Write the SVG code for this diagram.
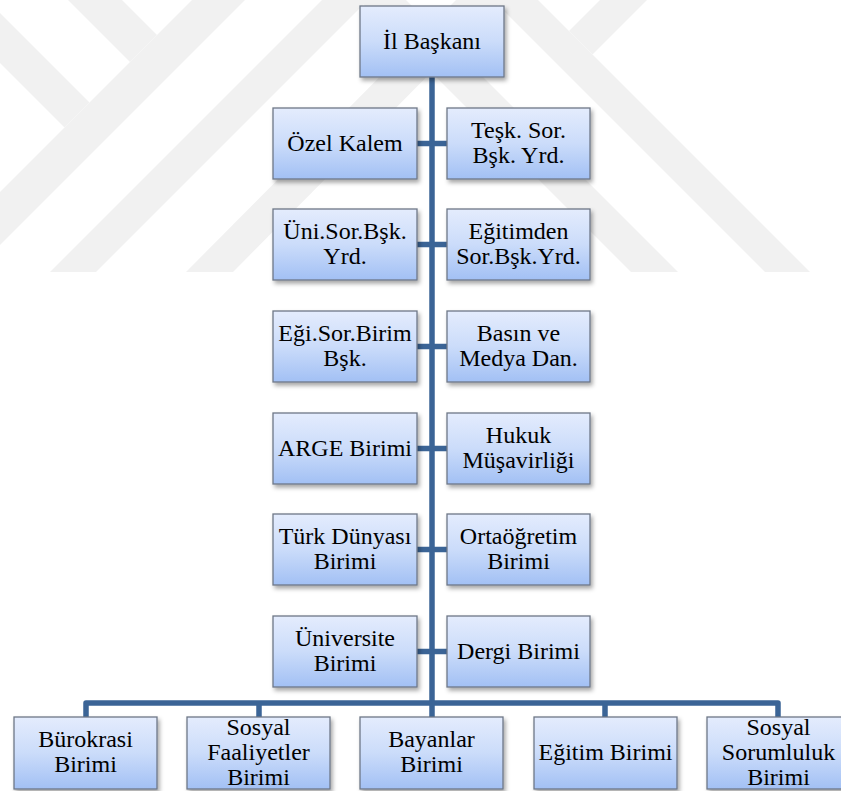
<svg xmlns="http://www.w3.org/2000/svg" width="841" height="791" viewBox="0 0 841 791">
<defs>
<linearGradient id="g" x1="0" y1="0" x2="0" y2="1">
<stop offset="0" stop-color="#e4ecfd"/>
<stop offset="0.5" stop-color="#cbdcfa"/>
<stop offset="1" stop-color="#a2c0f4"/>
</linearGradient>
<filter id="sh" x="-10%" y="-10%" width="125%" height="130%">
<feDropShadow dx="2" dy="3" stdDeviation="2" flood-color="#000" flood-opacity="0.35"/>
</filter>
<style>
.b{fill:url(#g);stroke:#6e7787;stroke-width:1.3;filter:url(#sh)}
text{font-family:'Liberation Serif','DejaVu Serif',serif;font-size:24px;fill:#000;text-anchor:middle}
.c{fill:none;stroke:#3b6496;stroke-width:5.5;stroke-linejoin:round}
.w{fill:#f1f1f1}
</style>
</defs>
<rect width="841" height="791" fill="#fff"/>
<g id="watermark">
<polygon class="w" points="68,0 122,0 157,35 130,62"/>
<polygon class="w" points="192,0 245,0 0,245 0,192"/>
<polygon class="w" points="0,13 89.5,102.5 64.5,127.5 0,63"/>
<polygon class="w" points="322,0 368,0 96,272 50,272"/>
<polygon class="w" points="456,0 503,0 233,272 186,272"/>
<polygon class="w" points="493,0 538,0 810,272 765,272"/>
<polygon class="w" points="359,0 406,0 678,272 631,272"/>
<polygon class="w" points="600,0 647,0 592.5,54.5 569,31"/>
</g>
<g id="connectors">
<path class="c" d="M432,77 V703"/>
<path class="c" d="M86,717 V703 H778 V717"/>
<path class="c" d="M259,703 V717 M605,703 V717 M432,703 V717"/>
<path class="c" d="M417,143.5 H447 M417,244.5 H447 M417,346.5 H447 M417,448.5 H447 M417,549.5 H447 M417,651.5 H447"/>
</g>
<g id="n-il-baskani"><rect class="b" x="360" y="6" width="144" height="71"/><text x="432" y="48.5">İl Başkanı</text></g>
<g id="n-ozel-kalem"><rect class="b" x="273" y="108" width="144" height="71"/><text x="345" y="150.5">Özel Kalem</text></g>
<g id="n-tesk"><rect class="b" x="447" y="108" width="143" height="71"/><text x="518.5" y="138">Teşk. Sor.<tspan x="518.5" dy="25">Bşk. Yrd.</tspan></text></g>
<g id="n-uni-sor"><rect class="b" x="273" y="209" width="144" height="71"/><text x="345" y="239">Üni.Sor.Bşk.<tspan x="345" dy="25">Yrd.</tspan></text></g>
<g id="n-egitimden"><rect class="b" x="447" y="209" width="143" height="71"/><text x="518.5" y="239">Eğitimden<tspan x="518.5" dy="25">Sor.Bşk.Yrd.</tspan></text></g>
<g id="n-egi-sor"><rect class="b" x="273" y="311" width="144" height="71"/><text x="345" y="341">Eği.Sor.Birim<tspan x="345" dy="25">Bşk.</tspan></text></g>
<g id="n-basin"><rect class="b" x="447" y="311" width="143" height="71"/><text x="518.5" y="341">Basın ve<tspan x="518.5" dy="25">Medya Dan.</tspan></text></g>
<g id="n-arge"><rect class="b" x="273" y="413" width="144" height="71"/><text x="345" y="455.5">ARGE Birimi</text></g>
<g id="n-hukuk"><rect class="b" x="447" y="413" width="143" height="71"/><text x="518.5" y="443">Hukuk<tspan x="518.5" dy="25">Müşavirliği</tspan></text></g>
<g id="n-turk"><rect class="b" x="273" y="514" width="144" height="71"/><text x="345" y="544">Türk Dünyası<tspan x="345" dy="25">Birimi</tspan></text></g>
<g id="n-ortaogretim"><rect class="b" x="447" y="514" width="143" height="71"/><text x="518.5" y="544">Ortaöğretim<tspan x="518.5" dy="25">Birimi</tspan></text></g>
<g id="n-universite"><rect class="b" x="273" y="616" width="144" height="71"/><text x="345" y="646">Üniversite<tspan x="345" dy="25">Birimi</tspan></text></g>
<g id="n-dergi"><rect class="b" x="447" y="616" width="143" height="71"/><text x="518.5" y="658.5">Dergi Birimi</text></g>
<g id="n-burokrasi"><rect class="b" x="14" y="717" width="143" height="72"/><text x="85.5" y="747">Bürokrasi<tspan x="85.5" dy="25">Birimi</tspan></text></g>
<g id="n-sosyal-faaliyetler"><rect class="b" x="187" y="717" width="143" height="72"/><text x="258.5" y="735">Sosyal<tspan x="258.5" dy="25">Faaliyetler</tspan><tspan x="258.5" dy="25">Birimi</tspan></text></g>
<g id="n-bayanlar"><rect class="b" x="360" y="717" width="143" height="72"/><text x="431.5" y="747">Bayanlar<tspan x="431.5" dy="25">Birimi</tspan></text></g>
<g id="n-egitim"><rect class="b" x="534" y="717" width="143" height="72"/><text x="605.5" y="760">Eğitim Birimi</text></g>
<g id="n-sosyal-sorumluluk"><rect class="b" x="707" y="717" width="143" height="72"/><text x="778.5" y="735">Sosyal<tspan x="778.5" dy="25">Sorumluluk</tspan><tspan x="778.5" dy="25">Birimi</tspan></text></g>
</svg>
